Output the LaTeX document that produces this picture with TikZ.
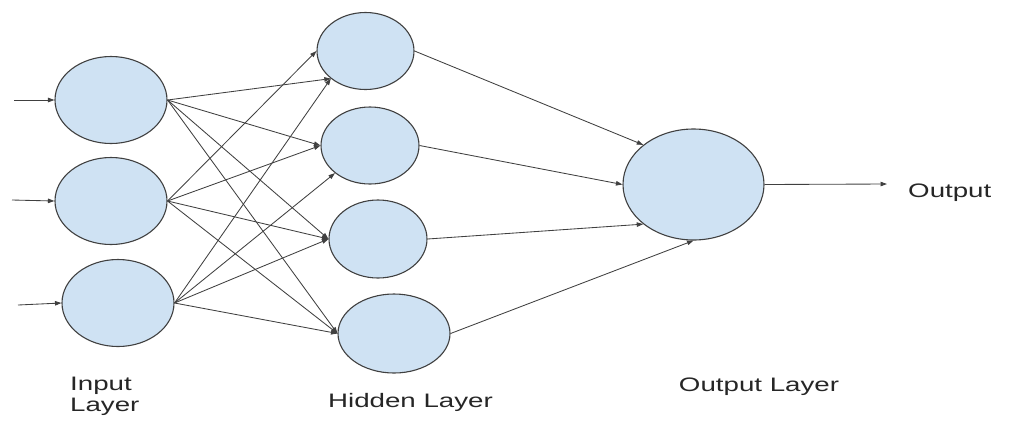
\documentclass[tikz,border=0pt]{standalone}
\usepackage{fontspec}
\setmainfont{Liberation Sans}[FakeStretch=1.42]
\usepackage{tikz}
\usetikzlibrary{arrows.meta,shapes.geometric}
\definecolor{nnblue}{HTML}{CFE2F3}
\definecolor{nnline}{HTML}{404040}
\definecolor{nntext}{HTML}{262626}

\begin{document}
\begin{tikzpicture}[x=1pt,y=-1pt,
  neuron/.style={ellipse, draw=nnline, line width=1.1pt, fill=nnblue, inner sep=0pt},
  synapse/.style={draw=nnline, line width=0.85pt, -{Triangle[length=6.5pt,width=4.5pt]}},
  layerlabel/.style={text=nntext, inner sep=0pt, font=\fontsize{19.5}{21}\selectfont}]
\useasboundingbox (0,0) rectangle (1024,440);
% input layer
\node[neuron, minimum width=112pt, minimum height=87pt] (in1) at (111,100) {};
\node[neuron, minimum width=112pt, minimum height=87pt] (in2) at (111,201) {};
\node[neuron, minimum width=112pt, minimum height=87pt] (in3) at (118,303) {};
% hidden layer
\node[neuron, minimum width=97pt, minimum height=77pt] (hid1) at (365.5,51) {};
\node[neuron, minimum width=98pt, minimum height=77pt] (hid2) at (370,145.5) {};
\node[neuron, minimum width=98pt, minimum height=78pt] (hid3) at (378,239) {};
\node[neuron, minimum width=112pt, minimum height=79pt] (hid4) at (394,333.5) {};
% output layer
\node[neuron, minimum width=141pt, minimum height=111pt] (out) at (693.5,184.5) {};
\coordinate (x1) at (14,100);
\coordinate (x2) at (12,200);
\coordinate (x3) at (18,305);
\coordinate (y) at (887,184);
\foreach \i in {1,2,3}
  \draw[synapse] (x\i) -- (in\i.west);
\draw[synapse] (in1.east) -- (hid1.south west);
\draw[synapse] (in1.east) -- (hid2.west);
\draw[synapse] (in1.east) -- (hid3.west);
\draw[synapse] (in1.east) -- (hid4.west);
\draw[synapse] (in2.east) -- (hid1.west);
\draw[synapse] (in2.east) -- (hid2.west);
\draw[synapse] (in2.east) -- (hid3.west);
\draw[synapse] (in2.east) -- (hid4.west);
\draw[synapse] (in3.east) -- (hid1.south west);
\draw[synapse] (in3.east) -- (hid2.south west);
\draw[synapse] (in3.east) -- (hid3.west);
\draw[synapse] (in3.east) -- (hid4.west);
\draw[synapse] (hid1.east) -- (out.north west);
\draw[synapse] (hid2.east) -- (out.west);
\draw[synapse] (hid3.east) -- (out.south west);
\draw[synapse] (hid4.east) -- (out.south);
\draw[synapse] (out.east) -- (y);
% labels
\node[layerlabel, anchor=west, align=left] (inlabel) at (70,396) {Input\\Layer};
\node[layerlabel, anchor=base] (hidlabel) at (410.5,407) {Hidden Layer};
\node[layerlabel, anchor=base] (outlabel) at (759,391) {Output Layer};
\node[layerlabel, anchor=base west] (outtext) at (908,197) {Output};
\end{tikzpicture}
\end{document}
